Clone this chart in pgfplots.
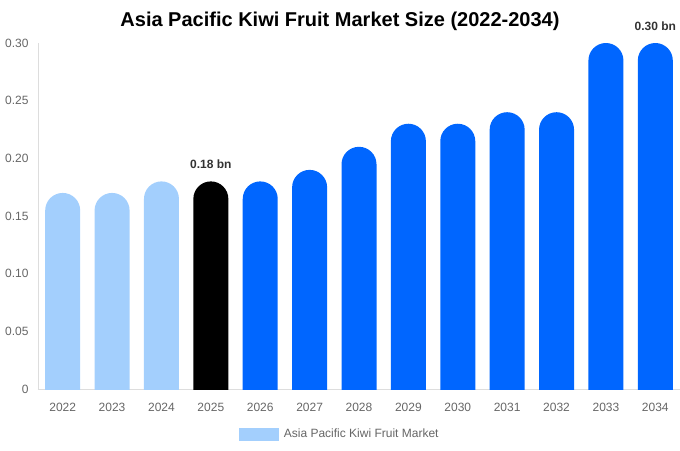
\documentclass[border=0pt]{standalone}
\usepackage{pgfplots}
\pgfplotsset{compat=1.18}
\usepackage{fontspec}
\setmainfont{Liberation Sans}
\definecolor{lightbar}{HTML}{A3CFFD}
\definecolor{bluebar}{HTML}{0066FF}
\definecolor{ticktext}{HTML}{666666}
\definecolor{axisline}{HTML}{DDDDDD}
\definecolor{labeltext}{HTML}{333333}
% each bar sits on a hidden -0.02 stub, so its rounded bottom is clipped away below y=0
\pgfplotsset{
  kiwi/.style={
    scale only axis, width=642pt, height=346pt,
    xmin=-0.5, xmax=12.5, ymin=0, ymax=0.30,
    ybar stacked, stack negative=on previous, bar width=35pt,
  },
  stub/.style={draw=none, fill=none},
  roundbar/.style={draw=none, rounded corners=17.5pt},
}
\begin{document}
\begin{tikzpicture}
\begin{axis}[kiwi,
  axis x line*=bottom, axis y line*=left,
  axis line style={draw=axisline},
  major tick length=0pt,
  xtick={0,1,2,3,4,5,6,7,8,9,10,11,12},
  xticklabels={2022,2023,2024,2025,2026,2027,2028,2029,2030,2031,2032,2033,2034},
  ytick={0,0.05,0.10,0.15,0.20,0.25,0.30},
  yticklabels={0,0.05,0.10,0.15,0.20,0.25,0.30},
  ticklabel style={font=\fontsize{12}{14}\selectfont, text=ticktext},
  xticklabel style={yshift=-11pt},
  yticklabel style={xshift=-6pt},
  legend entries={,Asia Pacific Kiwi Fruit Market},
  legend style={at={(axis description cs:0.47,-0.11)}, anchor=north, draw=none,
    font=\fontsize{12}{14}\selectfont, text=ticktext, inner sep=0pt},
]
\addplot[stub] coordinates {(0,-0.02) (1,-0.02) (2,-0.02)};
\addplot[roundbar, fill=lightbar,
  legend image code/.code={\fill[lightbar, sharp corners] (0pt,-6.5pt) rectangle (40pt,6.5pt);\path (43pt,0pt);}]
  table[x=x, y expr=\thisrow{v}+0.02] {
x v
0 0.17
1 0.17
2 0.18
};
\coordinate (l25) at (axis cs:3,0.18);
\coordinate (l34) at (axis cs:12,0.30);
\end{axis}
\begin{axis}[kiwi, hide axis]
\addplot[stub] coordinates {(3,-0.02)};
\addplot[roundbar, fill=black] table[x=x, y expr=\thisrow{v}+0.02] {
x v
3 0.18
};
\end{axis}
\begin{axis}[kiwi, hide axis]
\addplot[stub] coordinates {(4,-0.02) (5,-0.02) (6,-0.02) (7,-0.02) (8,-0.02) (9,-0.02) (10,-0.02) (11,-0.02) (12,-0.02)};
\addplot[roundbar, fill=bluebar] table[x=x, y expr=\thisrow{v}+0.02] {
x v
4 0.18
5 0.19
6 0.21
7 0.23
8 0.23
9 0.24
10 0.24
11 0.30
12 0.30
};
\end{axis}
\node[anchor=south, yshift=9pt, font=\bfseries\fontsize{12}{14}\selectfont, text=labeltext]
  at (l25) {0.18 bn};
\node[anchor=south, yshift=9pt, font=\bfseries\fontsize{12}{14}\selectfont, text=labeltext]
  at (l34) {0.30 bn};
\node[font=\bfseries\fontsize{20}{24}\selectfont] at (302pt,368pt)
  {Asia Pacific Kiwi Fruit Market Size (2022-2034)};
\pgfresetboundingbox
\path (-38pt,-61pt) rectangle (642pt,389pt);
\end{tikzpicture}
\end{document}
